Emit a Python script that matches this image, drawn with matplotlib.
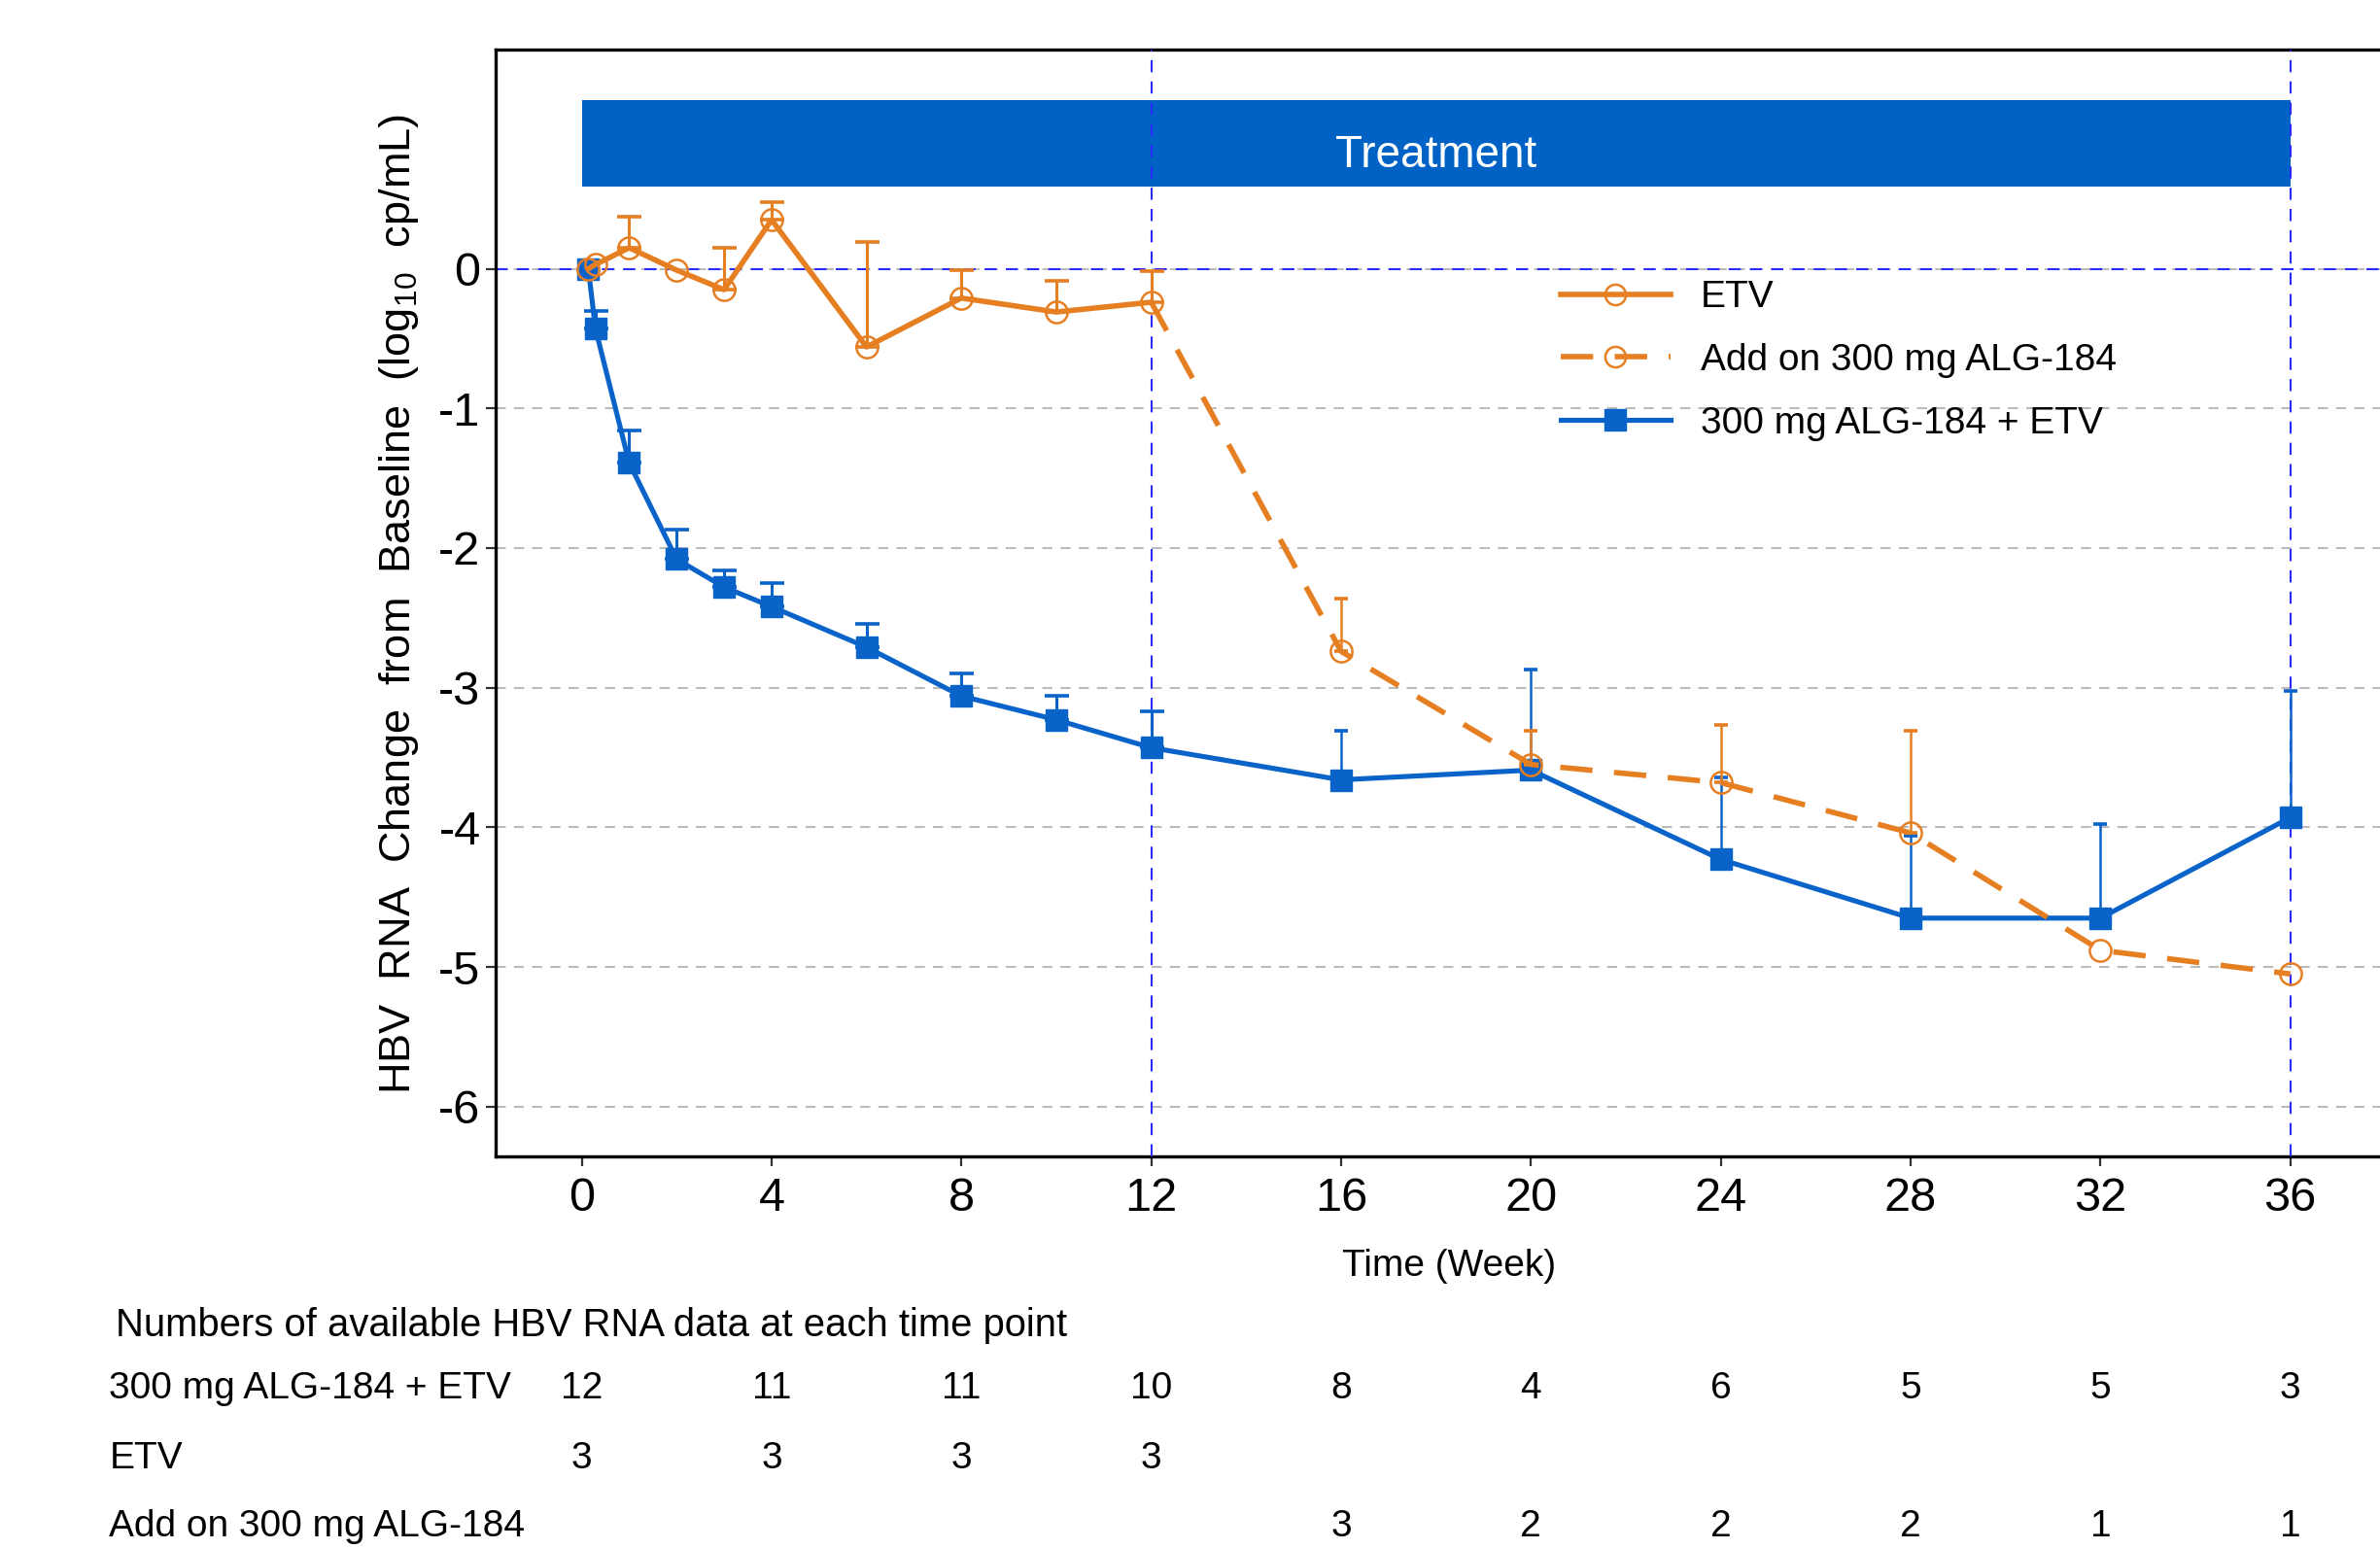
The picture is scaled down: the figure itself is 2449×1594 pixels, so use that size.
import numpy as np
import matplotlib.pyplot as plt
import matplotlib.transforms as mtransforms

plt.rcParams["font.family"] = ["Liberation Sans", "DejaVu Sans"]
plt.rcParams["mathtext.fontset"] = "custom"
plt.rcParams["mathtext.rm"] = "Liberation Sans"
plt.rcParams["axes.unicode_minus"] = False

# data (log10 change from baseline, upper error limits)
combo_wk = [0.14, 0.29, 1, 2, 3, 4, 6, 8, 10, 12, 16, 20, 24, 28, 32, 36]
combo_mean = [0, -0.43, -1.39, -2.08, -2.28, -2.42, -2.71, -3.06, -3.23, -3.43,
              -3.66, -3.59, -4.23, -4.65, -4.65, -3.93]
combo_upper = [np.nan, -0.30, -1.16, -1.87, -2.16, -2.25, -2.54, -2.90, -3.06, -3.17,
               -3.31, -2.87, -3.64, -4.06, -3.98, -3.02]

etv_wk = [0.14, 0.29, 1, 2, 3, 4, 6, 8, 10, 12]
etv_mean = [0, 0.03, 0.15, -0.01, -0.15, 0.35, -0.56, -0.21, -0.31, -0.24]
etv_upper = [np.nan, np.nan, 0.37, np.nan, 0.15, 0.48, 0.19, -0.01, -0.09, -0.02]

addon_wk = [12, 16, 20, 24, 28, 32, 36]
addon_mean = [-0.24, -2.74, -3.55, -3.68, -4.04, -4.88, -5.05]
addon_upper = [np.nan, -2.36, -3.31, -3.27, -3.31, np.nan, np.nan]

tick_wk = [0, 4, 8, 12, 16, 20, 24, 28, 32, 36]
n_combo = [12, 11, 11, 10, 8, 4, 6, 5, 5, 3]
n_etv = [3, 3, 3, 3, None, None, None, None, None, None]
n_addon = [None, None, None, None, 3, 2, 2, 2, 1, 1]

orange = "#E67E22"
blue = "#0A63C9"
refblue = "#2B2BFF"

fig = plt.figure(figsize=(24.49, 15.94), dpi=100)
ax = fig.add_axes([0.2082, 0.2534, 0.792, 0.7143])
ax.set_xlim(-1.816, 37.9)
ax.set_ylim(-6.357, 1.566)

ax.set_yticks(range(-6, 1))
ax.set_xticks(tick_wk)
ax.grid(axis="y", color="#BBBBBB", linestyle=(0, (5, 4)), linewidth=1.5)
ax.set_axisbelow(True)

ax.axhline(0, color=refblue, linestyle=(0, (6, 4.5)), linewidth=1.5, zorder=2)
for xv in [12, 36]:
    ax.axvline(xv, color=refblue, linestyle=(0, (6, 4.5)), linewidth=1.5, zorder=4)

# treatment bar
ax.fill_between([0, 36], 0.588, 1.207, color="#0062C4", linewidth=0, zorder=3)
ax.text(18, 0.81, "Treatment", color="white", fontsize=33, ha="center", va="center", zorder=5)


def upper_err(mean, upper):
    m = np.array(mean, dtype=float)
    u = np.array(upper, dtype=float)
    up = np.where(np.isnan(u), 0, u - m)
    return m, np.vstack([np.zeros_like(up), up]), ~np.isnan(u)


def draw_err(x, mean, upper, color, zorder):
    x = np.array(x, dtype=float)
    m, err, has = upper_err(mean, upper)
    for sel, cs, lw in [((x <= 12) & has, 9, 2.2), ((x > 12) & has, 5, 1.8)]:
        if sel.any():
            ax.errorbar(x[sel], m[sel], yerr=err[:, sel], fmt="none", ecolor=color,
                        elinewidth=lw, capsize=cs, capthick=2.6, zorder=zorder)


draw_err(combo_wk, combo_mean, combo_upper, blue, 6)
ax.plot(combo_wk, combo_mean, color=blue, linewidth=3.7, marker="s", markersize=16,
        markerfacecolor=blue, markeredgecolor=blue, zorder=6, label="300 mg ALG-184 + ETV")

draw_err(etv_wk, etv_mean, etv_upper, orange, 7)
ax.plot(etv_wk, etv_mean, color=orange, linewidth=4.0, marker="o", markersize=16,
        markerfacecolor="none", markeredgecolor=orange, markeredgewidth=1.8, zorder=7, label="ETV")

draw_err(addon_wk, addon_mean, addon_upper, orange, 7)
ax.plot(addon_wk, addon_mean, color=orange, linewidth=4.0, linestyle=(0, (6, 4)),
        marker="o", markersize=16, markevery=list(range(1, len(addon_wk))),
        markerfacecolor="none", markeredgecolor=orange, markeredgewidth=1.8, zorder=7,
        label="Add on 300 mg ALG-184")

for s in ["left", "bottom", "top"]:
    ax.spines[s].set_linewidth(2.4)
    ax.spines[s].set_color("black")
ax.spines["right"].set_visible(False)
ax.tick_params(axis="both", labelsize=35, length=7, width=1.6, color="#333333")
ax.tick_params(axis="y", pad=4)
ax.tick_params(axis="x", pad=8)

handles, labels = ax.get_legend_handles_labels()
order = [1, 2, 0]
ax.legend([handles[i] for i in order], [labels[i] for i in order], loc="upper left",
          bbox_to_anchor=(0.565, 0.792), frameon=False, fontsize=28, handlelength=2.9,
          handletextpad=0.8, labelspacing=0.74, borderpad=0, borderaxespad=0,
          markerscale=0.95)

fig.text(0.1678, 0.6104, "HBV  RNA  Change  from  Baseline  (log$_{10}$  cp/mL)", rotation=90,
         ha="center", va="center", fontsize=32.5)
fig.text(0.609, 0.1825, "Time (Week)", ha="center", va="center", fontsize=28)

# numbers at risk table
fig.text(0.0486, 0.1445, "Numbers of available HBV RNA data at each time point",
         ha="left", va="center", fontsize=28.8)
trans = mtransforms.blended_transform_factory(ax.transData, fig.transFigure)
rows = [("300 mg ALG-184 + ETV", n_combo, 0.1033),
        ("ETV", n_etv, 0.0585),
        ("Add on 300 mg ALG-184", n_addon, 0.0145)]
for name, counts, yf in rows:
    fig.text(0.0459, yf, name, ha="left", va="center", fontsize=28)
    for wk, c in zip(tick_wk, counts):
        if c is not None:
            ax.text(wk, yf, str(c), transform=trans, ha="center", va="center",
                    fontsize=28, clip_on=False)

fig.savefig("out.png", dpi=100)
